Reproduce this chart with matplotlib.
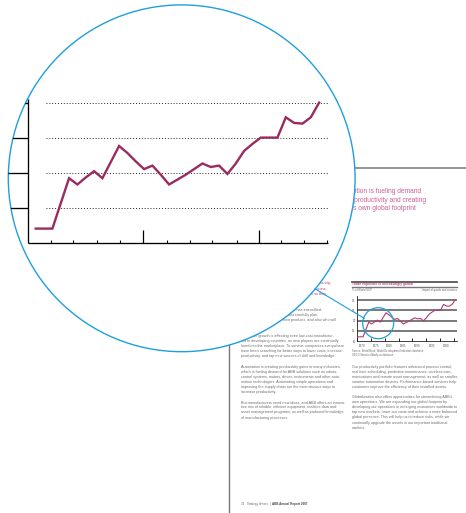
import matplotlib
matplotlib.use('Agg')
import matplotlib.pyplot as plt
from matplotlib.patches import Circle

W, H, DPI = 466, 513, 100
plt.rcParams['font.family'] = ['Liberation Sans', 'DejaVu Sans']

# ---------------- data ----------------
years = list(range(1970, 2005))
imports_pct = [12.1, 12.1, 12.1, 15.7, 19.3, 18.4, 19.4, 20.3, 19.3, 21.6,
               23.9, 22.9, 21.7, 20.6, 21.1, 19.8, 18.4, 19.1, 19.8, 20.6,
               21.4, 20.9, 21.1, 19.9, 21.4, 23.2, 24.2, 25.1, 25.1, 25.1,
               28.0, 27.2, 27.1, 28.0, 30.1]
grid_levels = [15, 20, 25, 30]
small_yvals = [30, 25, 20, 15, 10]
small_ylabels = ['30', '25', '20', '15', '10']
small_xlabels = ['1970', '1975', '1980', '1985', '1990', '1995', '2000']
small_xlabel_pos = [1971.5, 1976.5, 1981.1, 1986.0, 1990.9, 1995.9, 2000.8]
small_xticks = [1970, 1974.8, 1979.6, 1984.4, 1989.2, 1994.0, 1998.8, 2003.6]
big_minor_ticks = [1971.8, 1974.5, 1977.3, 1980.1, 1985.7, 1988.5, 1991.2,
                   1994.1, 1999.4, 2002.2, 2005.0]
big_major_ticks = [1982.9, 1996.8]

PINK = '#b8407c'
BODY = '#6c6c6c'
BLUE = '#1e9fdf'
LINE = '#9a2b5f'

fig = plt.figure(figsize=(W / DPI, H / DPI), dpi=DPI)
fig.patch.set_facecolor('white')


def px_axes(z):
    a = fig.add_axes([0, 0, 1, 1], zorder=z)
    a.set_xlim(0, W)
    a.set_ylim(H, 0)
    a.axis('off')
    a.patch.set_alpha(0)
    return a


# ---------------- page background ----------------
bg = px_axes(0)
bg.plot([228.5, 228.5], [150, 513], color='#7a7a7a', lw=1.0)
bg.plot([200, 466], [167.6, 167.6], color='#8c8c8c', lw=1.3)

for x, y, s in [(352.7, 191.7, 'tition is fueling demand'),
                (354.3, 200.0, 'productivity and creating'),
                (353.3, 208.8, 's own global footprint')]:
    bg.text(x, y, s, fontsize=4.8, color='#cc5f98', va='center', ha='left')


def block(x, y0, lines, color=BODY, fs=2.7, dy=5.1, weight='normal'):
    for i, s in enumerate(lines):
        bg.text(x, y0 + i * dy, s, fontsize=fs, color=color, va='center',
                ha='left', fontweight=weight)


LX, RX = 240.7, 351.7
block(LX, 283.3, ['Increasing competition among manufacturers has trig-',
                  'gered a global race to expand into growing regions,',
                  'and companies are shifting their production so they'],
      color=PINK, dy=5.5)
block(LX, 310.0, ['In a global economy, competition has intensified.',
                  'To stay ahead, companies must carefully plan',
                  'where they manufacture their products, and also who will'])
block(LX, 336.0, ['Economic growth is affecting even low-cost manufactur-',
                  'ers in developing countries, as new players are continually',
                  'lured into the marketplace. To survive, companies everywhere',
                  'have been searching for better ways to lower costs, increase',
                  'productivity, and tap new sources of skill and knowledge.'],
      dy=4.95)
block(LX, 366.7, ['Automation is creating productivity gains in many industries,',
                  'which is fueling demand for ABB solutions such as robots,',
                  'control systems, motors, drives, instruments and other auto-',
                  'mation technologies. Automating simple operations and',
                  'improving the supply chain are the most obvious ways to',
                  'increase productivity.'], dy=5.05)
block(LX, 402.3, ['But manufacturers need new ideas, and ABB offers an innova-',
                  'tive mix of reliable, efficient equipment, realtime data and',
                  'asset management programs, as well as profound knowledge',
                  'of manufacturing processes.'])
block(RX, 366.7, ['Our productivity portfolio features advanced process control,',
                  'real time scheduling, predictive maintenance, wireless com-',
                  'munications and remote asset management, as well as smaller,',
                  'smarter automation devices. Performance-based services help',
                  'customers improve the efficiency of their installed assets.'],
      dy=5.08)
block(RX, 396.7, ['Globalization also offers opportunities for streamlining ABB\'s',
                  'own operations. We are expanding our global footprint by',
                  'developing our operations in emerging economies worldwide to',
                  'tap new markets, lower our costs and achieve a more balanced',
                  'global presence. This will help us to reduce risks, while we',
                  'continually upgrade the assets in our important traditional',
                  'markets.'], dy=5.17)
bg.text(LX, 504.5, '32   Strategy drivers  |  ', fontsize=2.2, color=BODY, va='center')
bg.text(LX + 31, 504.5, 'ABB Annual Report 2007', fontsize=2.2, color='#444',
        va='center', fontweight='bold')

# small chart header
bg.plot([RX, 457.3], [281.6, 281.6], color='#555555', lw=1.3)
bg.text(RX, 284.1, 'Trade exposure is increasingly global', fontsize=2.4,
        color=PINK, va='center', fontweight='bold')
bg.plot([RX, 457.3], [286.6, 286.6], color='#777777', lw=1.0)
bg.text(RX, 289.6, '% of World GDP', fontsize=2.0, color=BODY, va='center')
bg.text(457.3, 289.6, 'Import of goods and services', fontsize=2.0, color=BODY,
        va='center', ha='right')
bg.text(RX, 350.7, 'Source: World Bank, World Development Indicators database;',
        fontsize=1.9, color=BODY, va='center')
bg.text(RX, 355.3, 'OECD Structural Analysis database', fontsize=1.9,
        color=BODY, va='center')

# ---------------- small chart ----------------
sm = fig.add_axes([357.3 / W, 1 - 341.1 / H, (457 - 357.3) / W, (341.1 - 296) / H],
                  zorder=1)
sm.patch.set_alpha(0)
sm.set_xlim(1970, 2004.69)
sm.set_ylim(10, 32.1)
for g in grid_levels:
    sm.axhline(g, color='#555555', lw=1.1, zorder=1)
sm.plot(years, imports_pct, color='#b03a72', lw=0.8, zorder=3)
for s in ['top', 'right']:
    sm.spines[s].set_visible(False)
for s in ['left', 'bottom']:
    sm.spines[s].set_linewidth(0.6)
    sm.spines[s].set_color('#222222')
sm.set_xticks(small_xticks)
sm.set_xticklabels([])
sm.tick_params(axis='x', direction='in', length=2.2, width=0.7, color='#222222')
sm.set_yticks(small_yvals)
sm.set_yticklabels(small_ylabels)
sm.tick_params(axis='y', length=0, pad=1.2, labelsize=2.2, labelcolor='#555555')
for p, lab in zip(small_xlabel_pos, small_xlabels):
    sm.text(p, 7.6, lab, fontsize=2.2, color='#555555', ha='center', va='center',
            clip_on=False)

# ---------------- overlay: lens circles ----------------
ov = px_axes(2)
CX, CY, R = 181.7, 178.3, 173.4
ov.add_patch(Circle((CX, CY), R, fc='white', ec='none'))
ov.add_patch(Circle((378.2, 323.2), 15.5, fill=False, ec=BLUE, lw=0.9))
ov.plot([315.0, 364.2], [288.8, 318.3], color=BLUE, lw=0.8)

# ---------------- magnified chart ----------------
ax = fig.add_axes([0, 0, 1, 1], zorder=3)
ax.axis('off')
ax.patch.set_alpha(0)
ax.set_xlim(1965.715, 2021.617)
ax.set_ylim(-28.53, 44.757)
clip = Circle((CX, CY), R, transform=ov.transData)

X0, X1, YTOP = 1969.1, 2005.1, 30.57
arts = []
arts.append(ax.hlines(grid_levels, 1971.2, X1, colors='black',
                      linestyles=(0, (1, 2.2)), lw=0.65))
arts.append(ax.hlines(grid_levels, 1965.0, X0, colors='black', lw=0.95))
arts.append(ax.vlines([X0], 10, YTOP, colors='black', lw=0.95))
arts.append(ax.hlines([10], X0, X1, colors='black', lw=0.95))
arts.append(ax.vlines(big_minor_ticks, 10, 10.47, colors='black', lw=0.8))
arts.append(ax.vlines(big_major_ticks, 10, 11.9, colors='black', lw=0.9))
arts += ax.plot(years, imports_pct, color=LINE, lw=1.7, solid_joinstyle='miter',
                zorder=5)
for a in arts:
    a.set_clip_path(clip)

edge = Circle((CX, CY), R, fill=False, ec=BLUE, lw=1.0, transform=ov.transData)
edge.set_clip_on(False)
ax.add_artist(edge)

fig.savefig('out.png', dpi=DPI, facecolor='white')
